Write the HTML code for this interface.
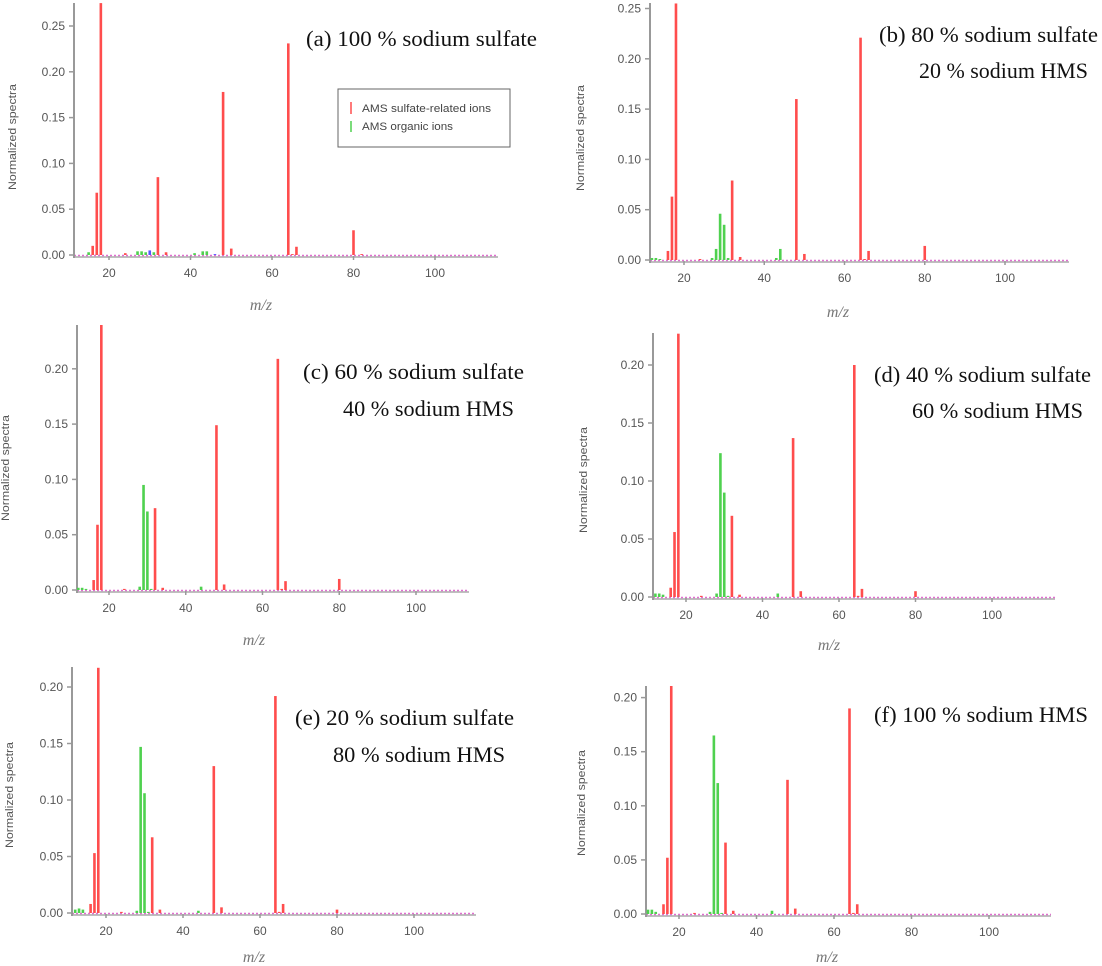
<!DOCTYPE html>
<html><head><meta charset="utf-8">
<style>
html,body{margin:0;padding:0;background:#fff;}
svg{display:block;}
.tk{font-family:"Liberation Sans",sans-serif;font-size:12px;fill:#555;}
.yl{font-family:"Liberation Sans",sans-serif;font-size:11px;fill:#555;}
.ti{font-family:"Liberation Serif",serif;font-size:22px;fill:#111;}
.mz{font-family:"Liberation Serif",serif;font-size:16px;font-style:italic;fill:#777;}
.lg{font-family:"Liberation Sans",sans-serif;font-size:11px;fill:#444;}
</style></head>
<body>
<svg id="chart" width="1102" height="966" viewBox="0 0 1102 966" xmlns="http://www.w3.org/2000/svg"></svg>
<script>
// Data (m/z, normalized intensity) per panel
const panelIds = ["a","b","c","d","e","f"];
const titles1 = ["(a)  100 % sodium sulfate","(b)  80 % sodium sulfate","(c)  60 % sodium sulfate","(d)  40 % sodium sulfate","(e)  20 % sodium sulfate","(f)  100 % sodium HMS"];
const titles2 = ["","20 % sodium HMS","40 % sodium HMS","60 % sodium HMS","80 % sodium HMS",""];
const yTicks = [0,0.05,0.10,0.15,0.20,0.25];
const xTicks = [20,40,60,80,100];
const sulfateMz = [16,17,18,24,32,34,48,50,64,65,66,80,82];
const sulfateA = [0.010,0.068,0.275,0.002,0.085,0.003,0.178,0.007,0.231,0.001,0.009,0.027,0.001];
const sulfateB = [0.009,0.063,0.255,0.001,0.079,0.003,0.160,0.006,0.221,0.001,0.009,0.014,0.000];
const sulfateC = [0.009,0.059,0.240,0.001,0.074,0.002,0.149,0.005,0.209,0.001,0.008,0.010,0.000];
const sulfateD = [0.008,0.056,0.227,0.001,0.070,0.002,0.137,0.005,0.200,0.001,0.007,0.005,0.000];
const sulfateE = [0.008,0.053,0.217,0.001,0.067,0.003,0.130,0.005,0.192,0.001,0.008,0.003,0.000];
const sulfateF = [0.009,0.052,0.211,0.001,0.066,0.003,0.124,0.005,0.190,0.001,0.009,0.000,0.000];
const organicMz = [12,13,14,15,27,28,29,30,31,41,43,44];
const organicA = [0.000,0.000,0.000,0.003,0.004,0.004,0.003,0.000,0.003,0.002,0.004,0.004];
const organicB = [0.002,0.002,0.001,0.000,0.002,0.011,0.046,0.035,0.002,0.000,0.002,0.011];
const organicC = [0.002,0.002,0.001,0.000,0.000,0.003,0.095,0.071,0.001,0.000,0.000,0.003];
const organicD = [0.003,0.003,0.002,0.000,0.000,0.003,0.124,0.090,0.001,0.000,0.000,0.003];
const organicE = [0.003,0.004,0.003,0.000,0.000,0.002,0.147,0.106,0.001,0.000,0.000,0.002];
const organicF = [0.004,0.004,0.002,0.000,0.000,0.002,0.165,0.121,0.001,0.000,0.000,0.003];
const otherMz = [30,46];
const otherA = [0.005,0.001];
const sulfateSets=[sulfateA,sulfateB,sulfateC,sulfateD,sulfateE,sulfateF];
const organicSets=[organicA,organicB,organicC,organicD,organicE,organicF];

const L=[
 {ax:74,ar:498,y0:255,p05:45.8,x20:109,x100:435,top:3,ymaxT:5,tx:306,ty:46,tw:231,t2x:0,t2y:0,t2w:0,ylx:16,yly:137,mzx:261,mzy:310},
 {ax:650,ar:1069,y0:260,p05:50.3,x20:684,x100:1005,top:3,ymaxT:5,tx:879,ty:42,tw:219,t2x:919,t2y:78,t2w:169,ylx:584,yly:138,mzx:838,mzy:317},
 {ax:77,ar:469,y0:590,p05:55.3,x20:109,x100:416,top:325,ymaxT:4,tx:303,ty:379,tw:221,t2x:343,t2y:416,t2w:171,ylx:9,yly:468,mzx:254,mzy:645},
 {ax:653,ar:1055,y0:597,p05:58,x20:686,x100:992,top:333,ymaxT:4,tx:874,ty:382,tw:217,t2x:912,t2y:418,t2w:171,ylx:587,yly:480,mzx:829,mzy:650},
 {ax:72,ar:476,y0:913,p05:56.5,x20:106,x100:414,top:667,ymaxT:4,tx:295,ty:725,tw:219,t2x:333,t2y:762,t2w:172,ylx:13,yly:795,mzx:254,mzy:962},
 {ax:646,ar:1051,y0:914,p05:54.1,x20:679,x100:989,top:686,ymaxT:4,tx:874,ty:722,tw:214,t2x:0,t2y:0,t2w:0,ylx:585,yly:803,mzx:827,mzy:962}
];
const NS="http://www.w3.org/2000/svg";
const svg=document.getElementById('chart');
function mk(tag,attrs,parent){const e=document.createElementNS(NS,tag);for(const k in attrs)e.setAttribute(k,attrs[k]);(parent||svg).appendChild(e);return e;}

panelIds.forEach((pid,i)=>{
  const g=L[i];
  const grp=mk('g',{});
  
  
  const xs=m=>g.x20+(m-20)*(g.x100-g.x20)/80;
  const ys=v=>g.y0-v/0.05*g.p05;
  const xaxis=mk('line',{x1:g.ax,x2:g.ar,y1:g.y0+2,y2:g.y0+2,stroke:'#aaa','stroke-width':1.5},grp);
  
  
  const base=mk('line',{x1:g.ax,x2:g.ar,y1:g.y0+0.5,y2:g.y0+0.5,stroke:'#e070d0','stroke-width':1.5,'stroke-dasharray':'2,2'},grp);
  
  
  const ya=mk('line',{x1:g.ax,x2:g.ax,y1:g.top,y2:g.y0+3,stroke:'#999','stroke-width':2},grp);
  
  
  yTicks.slice(0,g.ymaxT+1).forEach(t=>{
    const y=ys(t);
    mk('line',{x1:g.ax-5,x2:g.ax,y1:y,y2:y,stroke:'#999','stroke-width':1.5},grp);
    const tx=mk('text',{x:g.ax-9,y:y+4,'text-anchor':'end',class:'tk'},grp);
    tx.textContent=t.toFixed(2);
    
    
  });
  xTicks.forEach(t=>{
    const x=xs(t);
    mk('line',{x1:x,x2:x,y1:g.y0+1,y2:g.y0+5,stroke:'#999','stroke-width':1.5},grp);
    const tx=mk('text',{x:x,y:g.y0+22,'text-anchor':'middle',class:'tk'},grp);
    tx.textContent=t;
    
    
  });
  const drawBars=(mzs,vals,color,nm)=>{
    mzs.forEach((m,j)=>{
      const v=vals[j]; if(v<=0) return;
      let yt=ys(v); if(yt<g.top) yt=g.top;
      const r=mk('rect',{x:xs(m)-1.3,y:yt,width:2.6,height:g.y0-yt,fill:color},grp);
      
      
    });
  };
  drawBars(sulfateMz,sulfateSets[i],'#ff4d4d','sulfate');
  drawBars(organicMz,organicSets[i],'#4fd14f','organic');
  if(i===0) drawBars(otherMz,otherA,'#5555ff','other');
  const yl=mk('text',{x:g.ylx,y:g.yly,'text-anchor':'middle',class:'yl',textLength:106,lengthAdjust:'spacingAndGlyphs',transform:`rotate(-90 ${g.ylx} ${g.yly})`},grp);
  yl.textContent='Normalized spectra';
  
  
  const mz=mk('text',{x:g.mzx,y:g.mzy,'text-anchor':'middle',class:'mz'},grp);
  mz.textContent='m/z';
  
  
  const t1=mk('text',{x:g.tx,y:g.ty,class:'ti',textLength:g.tw,lengthAdjust:'spacingAndGlyphs'},grp);
  t1.textContent=titles1[i];
  
  
  if(titles2[i]){
    const t2=mk('text',{x:g.t2x,y:g.t2y,class:'ti',textLength:g.t2w,lengthAdjust:'spacingAndGlyphs'},grp);
    t2.textContent=titles2[i];
    
    
  }
});
const lg=mk('g',{});


mk('rect',{x:338,y:89,width:172,height:58,fill:'#fff',stroke:'#666','stroke-width':1},lg);
mk('line',{x1:351,x2:351,y1:102,y2:114,stroke:'#ff4d4d','stroke-width':1.5},lg);
mk('line',{x1:351,x2:351,y1:121,y2:132,stroke:'#4fd14f','stroke-width':1.5},lg);
const l1=mk('text',{x:362,y:112,class:'lg',textLength:129,lengthAdjust:'spacingAndGlyphs'},lg);l1.textContent='AMS sulfate-related ions';


const l2=mk('text',{x:362,y:130,class:'lg',textLength:91,lengthAdjust:'spacingAndGlyphs'},lg);l2.textContent='AMS organic ions';


</script>
</body></html>
